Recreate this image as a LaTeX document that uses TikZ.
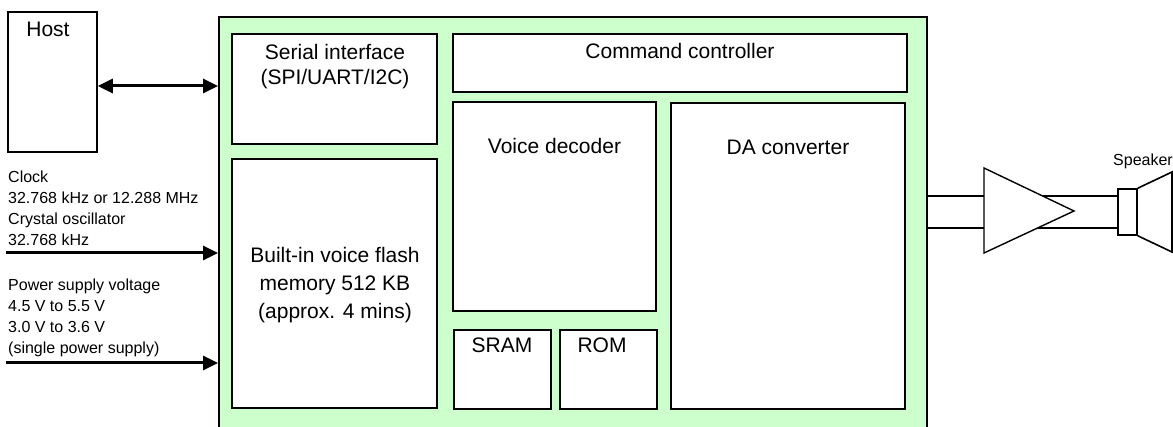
\documentclass[tikz,border=0pt]{standalone}
\usepackage{fontspec}
\setmainfont{Liberation Sans}
\usetikzlibrary{arrows.meta,fit}
\definecolor{chipgreen}{RGB}{204,255,204}
\tikzset{
  box/.style={draw=black, line width=1.6pt, fill=white, inner sep=0pt},
  chipbox/.style={draw=black, line width=1.8pt, fill=chipgreen, inner sep=0pt},
  bigtxt/.style={font=\fontsize{21}{28}\selectfont, anchor=base, inner sep=0pt},
  smalltxt/.style={font=\fontsize{16}{21}\selectfont, anchor=base west, inner sep=0pt},
  sig/.style={line width=3pt, -{Triangle[length=15pt,width=14pt]}},
  bisig/.style={line width=3pt, {Triangle[length=15pt,width=14pt]}-{Triangle[length=15pt,width=14pt]}},
  thinline/.style={line width=1.4pt},
}
\begin{document}
\begin{tikzpicture}[x=1pt,y=-1pt]
\useasboundingbox (0,0) rectangle (1173,427);
% chip
\node[chipbox, fit={(219,17)(927,440)}] (chip) {};
% host
\node[box, fit={(8,12)(97,152)}] (host) {};
\node[bigtxt] (hostt) at (48,37) {Host};
% inner blocks
\node[box, fit={(232,34)(437,144)}] (serial) {};
\node[box, fit={(232,159)(437,408)}] (flash) {};
\node[box, fit={(453,34)(907,92)}] (cmd) {};
\node[box, fit={(453,102)(656,311)}] (dec) {};
\node[box, fit={(671,103)(905,409)}] (dac) {};
\node[box, fit={(454,330)(551,409)}] (sram) {};
\node[box, fit={(560,330)(657,409)}] (rom) {};
% labels
\node[bigtxt] (serialt1) at (335,60) {Serial interface};
\node[bigtxt] (serialt2) at (335,85) {(SPI/UART/I2C)};
\node[bigtxt] (flasht1) at (335,263) {Built-in voice flash};
\node[bigtxt] (flasht2) at (335,291) {memory 512 KB};
\node[bigtxt] (flasht3) at (335,319) {(approx. 4 mins)};
\node[bigtxt] (cmdt) at (680,59) {Command controller};
\node[bigtxt] (dect) at (554.5,154) {Voice decoder};
\node[bigtxt] (dact) at (788,155) {DA converter};
\node[bigtxt] (sramt) at (502,353) {SRAM};
\node[bigtxt] (romt) at (602,353) {ROM};
% host link
\coordinate (hy) at (0,86);
\draw[bisig] (host.east |- hy) -- (chip.west |- hy);
% clock
\node[smalltxt] (c1) at (8,183) {Clock};
\node[smalltxt] (c2) at (8,204) {32.768 kHz or 12.288 MHz};
\node[smalltxt] (c3) at (8,225) {Crystal oscillator};
\node[smalltxt] (c4) at (8,246) {32.768 kHz};
\coordinate (clkin) at (6,253);
\draw[sig] (clkin) -- (chip.west |- clkin);
% power
\node[smalltxt] (p1) at (8,291) {Power supply voltage};
\node[smalltxt] (p2) at (8,312) {4.5 V to 5.5 V};
\node[smalltxt] (p3) at (8,333) {3.0 V to 3.6 V};
\node[smalltxt] (p4) at (8,354) {(single power supply)};
\coordinate (pwrin) at (6,363);
\draw[sig] (pwrin) -- (chip.west |- pwrin);
% speaker
\node[draw=black, line width=1.6pt, inner sep=0pt, fit={(1118,189)(1137,235)}] (spk) {};
\draw[line width=1.6pt] (spk.north east) -- (1172,172) -- (1172,252) -- (spk.south east);
\node[font=\fontsize{16}{21}\selectfont, anchor=base, inner sep=0pt] (spkt) at (1143,166) {Speaker};
% output lines
\coordinate (o1) at (0,196);
\coordinate (o2) at (0,228);
\draw[thinline] (chip.east |- o1) -- (spk.west |- o1);
\draw[thinline] (chip.east |- o2) -- (spk.west |- o2);
% amplifier
\coordinate (ampa) at (984,168);
\coordinate (ampb) at (984,253);
\coordinate (ampc) at (1074,211);
\filldraw[thinline, fill=white] (ampa) -- (ampc) -- (ampb) -- cycle;
\end{tikzpicture}
\end{document}
